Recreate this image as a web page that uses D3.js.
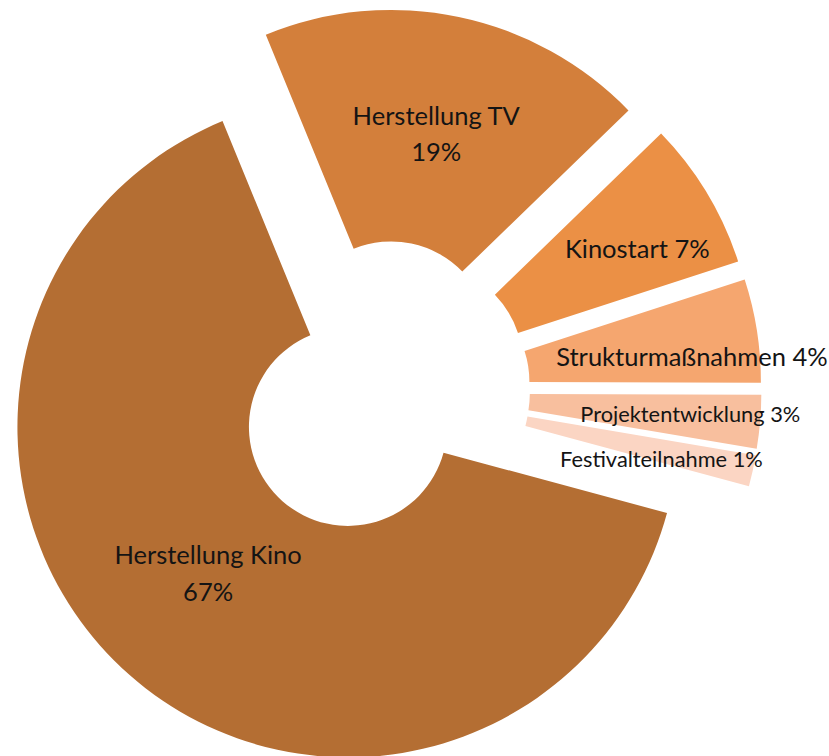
<!DOCTYPE html>
<html lang="de">

<head>
  <meta charset="UTF-8">
  <meta name="viewport" content="width=device-width, initial-scale=1.0">
  <title>Förderbereiche</title>
  <style>
    body { margin: 0; background: #fff; }
    svg { display: block; }
  </style>
</head>

<body>
  <svg id="svg" width="829" height="756"></svg>

  <script src="https://d3js.org/d3.v7.min.js"></script>
  <script>
    // data, clockwise starting with the TV slice
    const categories = ['Herstellung TV', 'Kinostart', 'Strukturmaßnahmen', 'Projektentwicklung', 'Festivalteilnahme', 'Herstellung Kino']
    const shares = [18.94, 7.25, 5.06, 2.61, 1.53, 64.61] // arc size as drawn in the picture
    const percentLabels = ['19%', '7%', '4%', '3%', '1%', '67%']

    const colors = ['#d37f3b', '#eb9045', '#f5a66f', '#f8bf9e', '#fbd5c3', '#b46e33']

    // label placement: radius from slice centre, angle nudge (deg), font size, two lines?
    const labelLayout = [
      { r: 220, da: 0, size: 25.5, split: true },
      { r: 238, da: 4.8, size: 25.5, split: false },
      { r: 262, da: 5.5, size: 25.5, split: false },
      { r: 261, da: 1.3, size: 21.8, split: false },
      { r: 241, da: 3.7, size: 21.8, split: false },
      { r: 196, da: 4.1, size: 25.5, split: true }
    ]

    const rad = d => d * Math.PI / 180
    const cx = 381, cy = 389.4
    const explode = 50
    const lineGap = 36.4

    const data = categories.map((c, i) => ({ name: c, share: shares[i], pct: percentLabels[i], i: i }))

    const pie = d3.pie()
      .sort(null)
      .value(d => d.share)
      .startAngle(rad(-22.3))
      .endAngle(rad(337.7))

    const arc = d3.arc()
      .innerRadius(99)
      .outerRadius(330.5)

    const color = d3.scaleOrdinal()
      .domain(categories)
      .range(colors)

    const svg = d3.select('#svg')
    const root = svg.append('g').attr('transform', `translate(${cx},${cy})`)

    const slices = root.selectAll('g.slice')
      .data(pie(data))
      .enter()
      .append('g')
      .attr('class', 'slice')
      .attr('transform', d => {
        const mid = (d.startAngle + d.endAngle) / 2
        return `translate(${explode * Math.sin(mid)},${-explode * Math.cos(mid)})`
      })

    slices.append('path')
      .attr('d', arc)
      .attr('fill', d => color(d.data.name))

    // labels
    const labels = slices.append('text')
      .attr('text-anchor', 'middle')
      .style('font-family', 'Lato, "Open Sans", sans-serif')
      .style('font-size', d => labelLayout[d.data.i].size + 'px')
      .attr('fill', '#141414')
      .attr('transform', d => {
        const L = labelLayout[d.data.i]
        const a = (d.startAngle + d.endAngle) / 2 + rad(L.da)
        return `translate(${L.r * Math.sin(a)},${-L.r * Math.cos(a)})`
      })

    labels.each(function (d) {
      const t = d3.select(this)
      if (labelLayout[d.data.i].split) {
        t.append('tspan').attr('x', 0).attr('y', 0).text(d.data.name)
        t.append('tspan').attr('x', 0).attr('y', lineGap).text(d.data.pct)
      } else {
        t.append('tspan').attr('x', 0).attr('y', 0).text(d.data.name + ' ' + d.data.pct)
      }
    })
  </script>
</body>

</html>
